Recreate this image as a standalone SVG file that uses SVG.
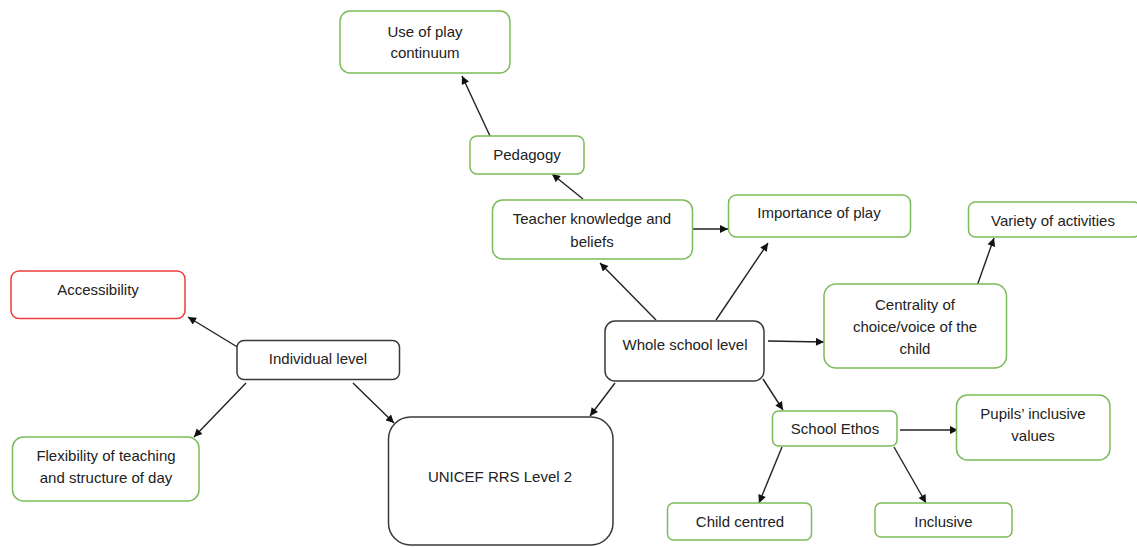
<svg xmlns="http://www.w3.org/2000/svg" width="1137" height="547" viewBox="0 0 1137 547">
<defs>
<style>
.g{fill:#fff;stroke:#7cbb5a;stroke-width:1.5}
.r{fill:#fff;stroke:#f03c3c;stroke-width:1.5}
.k{fill:#fff;stroke:#3a3a3a;stroke-width:1.5}
text{font-family:"Liberation Sans",Arial,sans-serif;font-size:15px;fill:#222;text-anchor:middle}
.c line{stroke:#222;stroke-width:1.4;marker-end:url(#ah)}
</style>
<marker id="ah" viewBox="0 0 10 10" refX="10" refY="5" markerWidth="9" markerHeight="8" markerUnits="userSpaceOnUse" orient="auto">
<path d="M0,0 L10,5 L0,10 z" fill="#111"/>
</marker>
</defs>
<rect width="1137" height="547" fill="#fff"/>
<g class="c" id="connectors">
<line x1="490" y1="136" x2="462" y2="76"/>
<line x1="583" y1="199" x2="552" y2="174"/>
<line x1="692" y1="229" x2="728" y2="229"/>
<line x1="656" y1="320" x2="600" y2="263"/>
<line x1="716" y1="320" x2="768" y2="243"/>
<line x1="768" y1="341" x2="824" y2="342"/>
<line x1="977" y1="286" x2="994" y2="238"/>
<line x1="239" y1="348" x2="188" y2="317"/>
<line x1="246" y1="383" x2="194" y2="437"/>
<line x1="353" y1="383" x2="394" y2="423"/>
<line x1="615" y1="383" x2="590" y2="416"/>
<line x1="763" y1="379" x2="783" y2="410"/>
<line x1="900" y1="430" x2="958" y2="430"/>
<line x1="782" y1="447" x2="759" y2="503"/>
<line x1="894" y1="447" x2="926" y2="503"/>
</g>
<g id="use-of-play"><rect class="g" x="340" y="11" width="170" height="62" rx="10"/><text x="425" y="37">Use of play</text><text x="425" y="58">continuum</text></g>
<g id="pedagogy"><rect class="g" x="470" y="136" width="114" height="38" rx="7"/><text x="527" y="160">Pedagogy</text></g>
<g id="teacher"><rect class="g" x="492.5" y="200" width="200" height="59" rx="10"/><text x="592" y="224">Teacher knowledge and</text><text x="592" y="247">beliefs</text></g>
<g id="importance"><rect class="g" x="728.5" y="195" width="182" height="42" rx="8"/><text x="819" y="218">Importance of play</text></g>
<g id="variety"><rect class="g" x="968.5" y="202" width="172" height="35" rx="7"/><text x="1053" y="226">Variety of activities</text></g>
<g id="centrality"><rect class="g" x="824" y="284" width="182.5" height="84" rx="12"/><text x="915" y="310">Centrality of</text><text x="915" y="332">choice/voice of the</text><text x="915" y="354">child</text></g>
<g id="whole-school"><rect class="k" x="605" y="321" width="159" height="60" rx="10"/><text x="685" y="350">Whole school level</text></g>
<g id="accessibility"><rect class="r" x="11" y="271" width="174" height="47.5" rx="8"/><text x="98" y="295">Accessibility</text></g>
<g id="individual"><rect class="k" x="237" y="340.5" width="162.5" height="39" rx="7"/><text x="318" y="364">Individual level</text></g>
<g id="flexibility"><rect class="g" x="12.5" y="437" width="186.5" height="64" rx="11"/><text x="106" y="461">Flexibility of teaching</text><text x="106" y="483">and structure of day</text></g>
<g id="unicef"><rect class="k" x="388.5" y="417" width="224.5" height="128" rx="22"/><text x="500" y="482">UNICEF RRS Level 2</text></g>
<g id="school-ethos"><rect class="g" x="772.5" y="411" width="124.5" height="35" rx="6"/><text x="835" y="434">School Ethos</text></g>
<g id="pupils"><rect class="g" x="956.5" y="395" width="153.5" height="65" rx="11"/><text x="1033" y="419">Pupils’ inclusive</text><text x="1033" y="441">values</text></g>
<g id="child-centred"><rect class="g" x="667.5" y="503" width="144" height="37" rx="6"/><text x="740" y="527">Child centred</text></g>
<g id="inclusive"><rect class="g" x="875" y="503" width="137" height="34" rx="6"/><text x="943.5" y="527">Inclusive</text></g>
</svg>
